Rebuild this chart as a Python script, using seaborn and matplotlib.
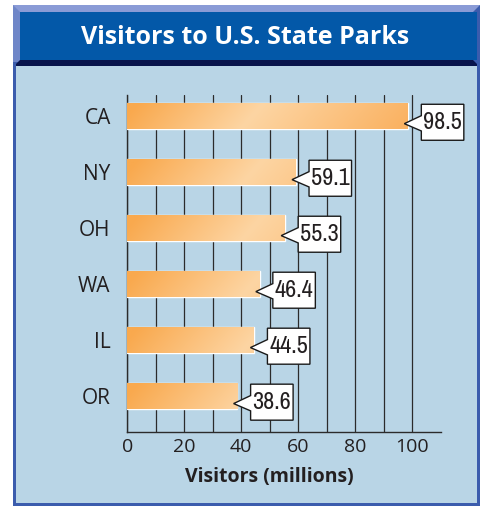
import numpy as np
import pandas as pd
import matplotlib
matplotlib.use("Agg")
import matplotlib.pyplot as plt
import matplotlib.transforms as mtransforms
from matplotlib.patches import Rectangle, Polygon
import seaborn as sns

# ---- data ----
states = ["CA", "NY", "OH", "WA", "IL", "OR"]
visitors = [98.5, 59.1, 55.3, 46.4, 44.5, 38.6]
x_ticks = [0, 20, 40, 60, 80, 100]
title = "Visitors to U.S. State Parks"
x_label = "Visitors (millions)"

df = pd.DataFrame({"state": states, "visitors": visitors})

sns.set_theme(style="white")
plt.rcParams["font.family"] = ["Open Sans", "DejaVu Sans"]

W, H = 480, 507
fig = plt.figure(figsize=(W / 100, H / 100), dpi=100)
fig.patch.set_facecolor("white")


def fx(x):
    return x / W


def fy(y):
    return 1 - y / H


def rect(x0, y0, x1, y1, color, z):
    fig.patches.append(Rectangle((fx(x0), fy(y1)), fx(x1 - x0), (y1 - y0) / H,
                                 transform=fig.transFigure, facecolor=color,
                                 edgecolor="none", zorder=z))


def poly(pts, color, z):
    fig.patches.append(Polygon([(fx(a), fy(b)) for a, b in pts], closed=True,
                               transform=fig.transFigure, facecolor=color,
                               edgecolor="none", zorder=z))


# ---- frame ----
rect(13, 5, 480, 506, "#3B5CAD", 0)
rect(16, 66, 477, 503, "#B9D5E6", 1)
rect(13, 5, 20, 62, "#6F86C8", 1)
poly([(13, 5), (480, 5), (473, 12), (20, 12)], "#8A9BD6", 2)
rect(20, 12, 477, 60, "#0358A8", 2)
poly([(20, 60), (473, 60), (477, 64), (477, 66), (16, 66), (16, 64)], "#08144C", 3)
fig.text(fx(245.5), fy(37), title, color="white", fontsize=18, fontweight="bold",
         ha="center", va="center", zorder=5)

# ---- axes ----
ax_l, ax_r, ax_t, ax_b = 127.3, 440.8, 95, 432
ax = fig.add_axes([fx(ax_l), fy(ax_b), (ax_r - ax_l) / W, (ax_b - ax_t) / H])
ax.set_facecolor("none")
ax.set_zorder(10)

sns.barplot(data=df, x="visitors", y="state", orient="h", width=0.465,
            color="#F9A94E", saturation=1, ax=ax, zorder=3)

xmax = 110
ax.set_xlim(0, xmax)
ax.set_ylim(5.64, -0.38)

# gradient fill on bars
c_or = np.array([249, 169, 78]) / 255
c_lt = np.array([253, 213, 163]) / 255
c_end = np.array([250, 178, 98]) / 255


def grad(xv):
    out = np.empty(xv.shape + (3,))
    for k in range(3):
        out[..., k] = np.interp(xv, [0, 44, 100], [c_or[k], c_lt[k], c_end[k]])
    return out


for p in list(ax.patches):
    x0, w = p.get_x(), p.get_width()
    y0, h = p.get_y(), p.get_height()
    xs = np.linspace(x0, x0 + w, 256)
    vs = np.linspace(-1, 1, 32)
    XX, VV = np.meshgrid(xs, vs)
    img = grad(XX + 4 * VV)
    im = ax.imshow(img, extent=[x0, x0 + w, y0 + h, y0], origin="upper",
                   aspect="auto", interpolation="bilinear", zorder=4)
    im.set_clip_path(p)

ax.set_xlim(0, xmax)
ax.set_ylim(5.64, -0.38)

ax.set_xticks(x_ticks)
ax.set_xticks(range(10, 101, 10), minor=True)
ax.grid(True, axis="x", which="both", color="#2B2B2B", lw=0.9)
ax.set_axisbelow(True)
ax.tick_params(axis="both", which="both", length=0, colors="#231F20")
ax.tick_params(axis="x", pad=4, labelsize=14)
ax.tick_params(axis="y", pad=12, labelsize=15)
for s in ["top", "right"]:
    ax.spines[s].set_visible(False)
for s in ["left", "bottom"]:
    ax.spines[s].set_color("#2B2B2B")
    ax.spines[s].set_linewidth(1.0)
ax.set_ylabel("")
ax.set_xlabel(x_label, fontsize=14, fontweight="bold", color="#231F20")
ax.xaxis.set_label_coords(50 / xmax, -0.105)

# ---- callouts ----
disp = mtransforms.IdentityTransform()
bw = 42.5
for i, v in enumerate(visitors):
    xe, yc = ax.transData.transform((v, i))
    # offsets in image pixels (y down) -> display (y up)
    pts = [(13.3, -12), (13.3 + bw, -12), (13.3 + bw, 24), (13.3, 24),
           (13.3, 14.7), (-3.7, 7.4), (13.3, -0.6)]
    dpts = [(xe + dx, yc - dy) for dx, dy in pts]
    ax.add_patch(Polygon(dpts, closed=True, transform=disp, facecolor="white",
                         edgecolor="#1A1A1A", lw=1.0, zorder=20, clip_on=False))
    ax.text(xe + 13.3 + bw / 2, yc - 6.5, f"{v:.1f}", transform=disp,
            ha="center", va="center", fontsize=17.5, color="#231F20",
            family=["Archivo Narrow", "DejaVu Sans"], zorder=21)

fig.savefig("out.png", dpi=100)
